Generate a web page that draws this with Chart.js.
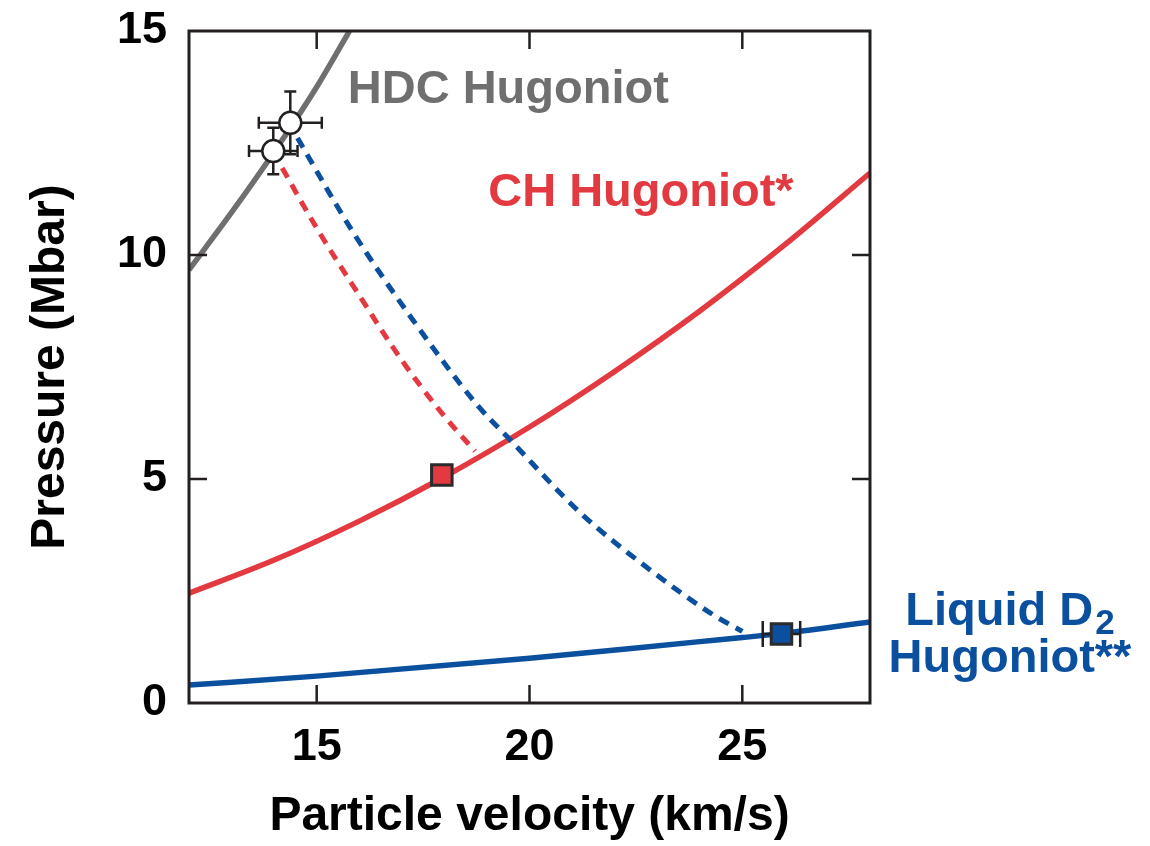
<!DOCTYPE html>
<html>
<head>
<meta charset="utf-8">
<script src="https://cdn.jsdelivr.net/npm/chart.js@4.4.1/dist/chart.umd.min.js"></script>
<style>
  html, body { margin: 0; padding: 0; background: #fff; }
  #wrap { width: 1150px; height: 846px; }
</style>
</head>
<body>
<div id="wrap"><canvas id="chart" width="1150" height="846"></canvas></div>
<script>
// Axis ticks
const xTicks = [15, 20, 25];
const yTicks = [0, 5, 10, 15];

// HDC Hugoniot (gray)
const hdcX = [12, 13, 14, 15, 15.77];
const hdcP = [9.67, 10.95, 12.3, 13.75, 15.0];

// CH Hugoniot (red)
const chX = [12, 14, 16, 18, 20, 22, 24, 26, 28];
const chP = [2.45, 3.19, 4.06, 5.05, 6.16, 7.40, 8.75, 10.23, 11.83];

// Liquid D2 Hugoniot (blue)
const d2X = [12, 15, 20, 24, 25, 26, 28];
const d2P = [0.40, 0.60, 1.0, 1.37, 1.46, 1.56, 1.81];

// release paths (dashed)
const redDashX = [14.19, 15.0, 16.0, 17.0, 18.0, 18.72];
const redDashP = [11.94, 10.6, 9.1, 7.65, 6.4, 5.62];
const blueDashX = [14.55, 15.82, 17.26, 18.8, 19.5, 21.2, 22.78, 24.33, 25.0];
const blueDashP = [12.61, 10.56, 8.55, 6.62, 5.92, 4.24, 3.01, 1.96, 1.6];

// measured points
const hdcPtX = [13.98, 14.38];
const hdcPtP = [12.32, 12.95];
const hdcPtXErr = [0.57, 0.74];
const hdcPtPErr = [0.52, 0.70];

const chPtX = [17.94];
const chPtP = [5.09];

const d2PtX = [25.92];
const d2PtP = [1.54];
const d2PtXErr = [0.44];

const RED = "#e23a40";
const BLUE = "#0b4f9f";
const GRAY = "#6f6f70";
const INK = "#231f20";
const FONT = '"Liberation Sans", Arial, Helvetica, sans-serif';

function toPts(xs, ys) {
    return xs.map((x, i) => ({ x: x, y: ys[i] }));
}

function curve(xs, ys, color, dashed) {
    return {
        data: toPts(xs, ys),
        showLine: true,
        borderColor: color,
        borderWidth: dashed ? 5 : 5.5,
        borderDash: dashed ? [11, 8] : [],
        pointRadius: 0,
        cubicInterpolationMode: "monotone",
        order: dashed ? 2 : 3
    };
}

// error bars, frame, ticks and text labels
const extras = {
    id: "extras",
    beforeDatasetDraw(chart, args) {
        const ds = chart.data.datasets[args.index];
        if (!ds.xErr) return;
        const xs = chart.scales.x, ys = chart.scales.y;
        const ctx = chart.ctx;
        ctx.save();
        ctx.strokeStyle = INK;
        ctx.lineWidth = 2.5;
        ds.data.forEach((p, i) => {
            const px = xs.getPixelForValue(p.x);
            const py = ys.getPixelForValue(p.y);
            const x0 = xs.getPixelForValue(p.x - ds.xErr[i]);
            const x1 = xs.getPixelForValue(p.x + ds.xErr[i]);
            const cap = ds.capX || 6;
            ctx.beginPath();
            ctx.moveTo(x0, py); ctx.lineTo(x1, py);
            ctx.moveTo(x0, py - cap); ctx.lineTo(x0, py + cap);
            ctx.moveTo(x1, py - cap); ctx.lineTo(x1, py + cap);
            if (ds.yErr) {
                const y0 = ys.getPixelForValue(p.y - ds.yErr[i]);
                const y1 = ys.getPixelForValue(p.y + ds.yErr[i]);
                ctx.moveTo(px, y0); ctx.lineTo(px, y1);
                ctx.moveTo(px - 6, y0); ctx.lineTo(px + 6, y0);
                ctx.moveTo(px - 6, y1); ctx.lineTo(px + 6, y1);
            }
            ctx.stroke();
        });
        ctx.restore();
    },
    afterDraw(chart) {
        const ctx = chart.ctx;
        const a = chart.chartArea;
        const xs = chart.scales.x, ys = chart.scales.y;
        const tl = 18;
        ctx.save();
        ctx.strokeStyle = INK;
        ctx.lineWidth = 3;
        ctx.strokeRect(a.left, a.top, a.right - a.left, a.bottom - a.top);
        ctx.lineWidth = 2.5;
        ctx.beginPath();
        xTicks.forEach(v => {
            const px = xs.getPixelForValue(v);
            ctx.moveTo(px, a.bottom); ctx.lineTo(px, a.bottom - tl);
            ctx.moveTo(px, a.top); ctx.lineTo(px, a.top + tl);
        });
        yTicks.slice(1, -1).forEach(v => {
            const py = ys.getPixelForValue(v);
            ctx.moveTo(a.left, py); ctx.lineTo(a.left + tl, py);
            ctx.moveTo(a.right, py); ctx.lineTo(a.right - tl, py);
        });
        ctx.stroke();

        // labels
        ctx.font = "bold 47px " + FONT;
        ctx.textBaseline = "alphabetic";
        ctx.textAlign = "left";
        ctx.fillStyle = GRAY;
        ctx.fillText("HDC Hugoniot", xs.getPixelForValue(15.73), ys.getPixelForValue(13.4));
        ctx.fillStyle = RED;
        ctx.fillText("CH Hugoniot*", xs.getPixelForValue(19.03), ys.getPixelForValue(11.1));

        ctx.fillStyle = BLUE;
        const cx = a.right + 140;
        const main = "Liquid D";
        const w1 = ctx.measureText(main).width;
        ctx.font = "bold 35px " + FONT;
        const w2 = ctx.measureText("2").width;
        const start = cx - (w1 + w2 + 2) / 2;
        const base1 = ys.getPixelForValue(1.74);
        ctx.font = "bold 47px " + FONT;
        ctx.fillText(main, start, base1);
        ctx.font = "bold 35px " + FONT;
        ctx.fillText("2", start + w1 + 2, base1 + 9);
        ctx.font = "bold 47px " + FONT;
        ctx.textAlign = "center";
        ctx.fillText("Hugoniot**", cx, ys.getPixelForValue(0.69));
        ctx.restore();
    }
};

const ctx = document.getElementById("chart").getContext("2d");

const chart = new Chart(ctx, {
    type: "scatter",
    data: {
        datasets: [
            {
                data: toPts(hdcPtX, hdcPtP),
                xErr: hdcPtXErr,
                yErr: hdcPtPErr,
                capX: 6,
                pointStyle: "circle",
                pointRadius: 11,
                pointBackgroundColor: "#ffffff",
                pointBorderColor: INK,
                pointBorderWidth: 2.5,
                order: 0
            },
            {
                data: toPts(chPtX, chPtP),
                pointStyle: "rect",
                pointRadius: 14.5,
                pointBackgroundColor: RED,
                pointBorderColor: "#2b2b2b",
                pointBorderWidth: 3,
                order: 0
            },
            {
                data: toPts(d2PtX, d2PtP),
                xErr: d2PtXErr,
                capX: 13,
                pointStyle: "rect",
                pointRadius: 14.5,
                pointBackgroundColor: BLUE,
                pointBorderColor: "#2b2b2b",
                pointBorderWidth: 3,
                order: 0
            },
            curve(redDashX, redDashP, RED, true),
            curve(blueDashX, blueDashP, BLUE, true),
            curve(hdcX, hdcP, GRAY, false),
            curve(chX, chP, RED, false),
            curve(d2X, d2P, BLUE, false)
        ]
    },
    options: {
        responsive: false,
        animation: false,
        layout: {
            padding: { top: 31, right: 280, bottom: 0, left: 0 }
        },
        plugins: {
            legend: { display: false },
            tooltip: { enabled: false }
        },
        scales: {
            x: {
                type: "linear",
                min: 12,
                max: 28,
                afterBuildTicks: s => { s.ticks = xTicks.map(v => ({ value: v })); },
                afterFit: s => { s.height = 143; s.paddingLeft = 0; s.paddingRight = 0; },
                grid: { display: false, drawTicks: false },
                border: { display: false },
                ticks: {
                    padding: 18,
                    color: "#000",
                    font: { family: FONT, size: 45, weight: "bold" }
                },
                title: {
                    display: true,
                    text: "Particle velocity (km/s)",
                    color: "#000",
                    padding: { top: 0, bottom: 0 },
                    font: { family: FONT, size: 48, weight: "bold" }
                }
            },
            y: {
                type: "linear",
                min: 0,
                max: 15,
                afterBuildTicks: s => { s.ticks = yTicks.map(v => ({ value: v })); },
                afterFit: s => { s.width = 189; s.paddingTop = 0; s.paddingBottom = 0; },
                grid: { display: false, drawTicks: false },
                border: { display: false },
                ticks: {
                    padding: 22,
                    color: "#000",
                    font: { family: FONT, size: 45, weight: "bold" }
                },
                title: {
                    display: true,
                    text: "Pressure (Mbar)",
                    color: "#000",
                    padding: { top: 22, bottom: 0 },
                    font: { family: FONT, size: 48, weight: "bold" }
                }
            }
        }
    },
    plugins: [extras]
});
</script>
</body>
</html>
